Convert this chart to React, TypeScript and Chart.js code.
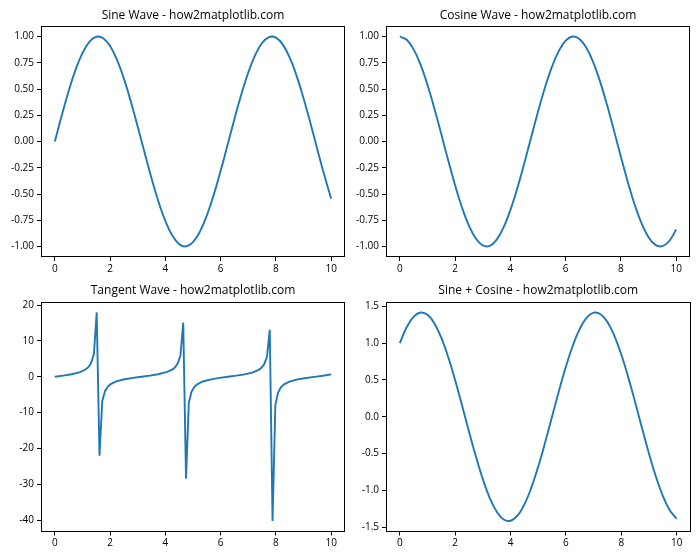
import React, { useEffect, useRef } from "react";
import { Chart, registerables } from "chart.js";

Chart.register(...registerables);

// ---- data ----
const smoothX = [
  0, 0.25, 0.5, 0.75, 1, 1.25, 1.5, 1.75, 2, 2.25, 2.5, 2.75, 3, 3.25, 3.5, 3.75, 4, 4.25, 4.5, 4.75,
  5, 5.25, 5.5, 5.75, 6, 6.25, 6.5, 6.75, 7, 7.25, 7.5, 7.75, 8, 8.25, 8.5, 8.75, 9, 9.25, 9.5, 9.75, 10,
];
const sineValues = [
  0, 0.2474, 0.4794, 0.6816, 0.8415, 0.949, 0.9975, 0.984, 0.9093, 0.7781, 0.5985, 0.3817, 0.1411,
  -0.1082, -0.3508, -0.5716, -0.7568, -0.895, -0.9775, -0.9993, -0.9589, -0.8589, -0.7055, -0.5083,
  -0.2794, -0.0332, 0.2151, 0.45, 0.657, 0.8231, 0.938, 0.9946, 0.9894, 0.9228, 0.7985, 0.6247, 0.4121,
  0.1739, -0.0752, -0.3195, -0.544,
];
const cosineValues = [
  1, 0.9689, 0.8776, 0.7317, 0.5403, 0.3153, 0.0707, -0.1782, -0.4161, -0.6282, -0.8011, -0.9243, -0.99,
  -0.9941, -0.9365, -0.8206, -0.6536, -0.4461, -0.2108, 0.0376, 0.2837, 0.5121, 0.7087, 0.8612, 0.9602,
  0.9994, 0.9766, 0.893, 0.7539, 0.5679, 0.3466, 0.1036, -0.1455, -0.3854, -0.602, -0.7807, -0.9111,
  -0.9848, -0.9972, -0.9476, -0.8391,
];
const sumValues = [
  1, 1.2163, 1.357, 1.4133, 1.3818, 1.2643, 1.0682, 0.8058, 0.4932, 0.1499, -0.2026, -0.5426, -0.8489,
  -1.1023, -1.2873, -1.3922, -1.4104, -1.3411, -1.1883, -0.9617, -0.6752, -0.3468, 0.0032, 0.3529,
  0.6808, 0.9662, 1.1917, 1.343, 1.4109, 1.391, 1.2846, 1.0982, 0.8439, 0.5374, 0.1965, -0.156, -0.499,
  -0.8109, -1.0724, -1.2671, -1.3831,
];
const tanX = [
  0, 0.303, 0.6061, 0.9091, 1.1111, 1.2121, 1.3131, 1.4141, 1.5152, 1.6162, 1.7172, 1.8182, 1.9192,
  2.0202, 2.2222, 2.5253, 2.8283, 3.1313, 3.4343, 3.7374, 4.0404, 4.2424, 4.3434, 4.4444, 4.5455,
  4.6465, 4.7475, 4.8485, 4.9495, 5.0505, 5.1515, 5.3535, 5.6566, 5.9596, 6.2626, 6.5657, 6.8687,
  7.1717, 7.3737, 7.4747, 7.5758, 7.6768, 7.7778, 7.8788, 7.9798, 8.0808, 8.1818, 8.2828, 8.4848,
  8.7879, 9.0909, 9.3939, 9.697, 10,
];
const tanValues = [
  0, 0.3127, 0.693, 1.2837, 2.0185, 2.667, 3.795, 6.331, 17.95, -22.03, -6.783, -3.96, -2.753, -2.073,
  -1.311, -0.7085, -0.3241, -0.0103, 0.3014, 0.6779, 1.2571, 1.9688, 2.585, 3.643, 5.934, 15.14, -28.49,
  -7.302, -4.139, -2.843, -2.129, -1.339, -0.724, -0.3354, -0.0206, 0.2902, 0.6631, 1.2305, 1.9205,
  2.508, 3.501, 5.584, 13.1, -40.3, -7.906, -4.333, -2.941, -2.187, -1.37, -0.7403, -0.3469, -0.0309,
  0.2791, 0.6484,
];

const xTicks = [0, 2, 4, 6, 8, 10];
const waveTicks = [-1, -0.75, -0.5, -0.25, 0, 0.25, 0.5, 0.75, 1];
const tanTicks = [-40, -30, -20, -10, 0, 10, 20];
const sumTicks = [-1.5, -1, -0.5, 0, 0.5, 1, 1.5];

const titles = [
  "Sine Wave - how2matplotlib.com",
  "Cosine Wave - how2matplotlib.com",
  "Tangent Wave - how2matplotlib.com",
  "Sine + Cosine - how2matplotlib.com",
];

const FONT = "'Open Sans', 'Noto Sans', sans-serif";
const LINE = "#1f77b4";

const framePlugin = {
  id: "frame",
  afterDatasetsDraw(chart: any) {
    const { ctx, chartArea } = chart;
    const l = Math.round(chartArea.left) + 0.5;
    const t = Math.round(chartArea.top) + 0.5;
    const r = Math.round(chartArea.right) - 0.5;
    const b = Math.round(chartArea.bottom) - 0.5;
    ctx.save();
    ctx.strokeStyle = "#000";
    ctx.lineWidth = 1;
    ctx.strokeRect(l, t, r - l, b - t);
    ctx.restore();
  },
};

type Panel = {
  left: number;
  top: number;
  width: number;
  height: number;
  yWidth: number;
  xHeight: number;
  padRight: number;
  titlePad: { top: number; bottom: number };
  title: string;
  points: { x: number; y: number }[];
  smooth: boolean;
  yMin: number;
  yMax: number;
  yTicks: number[];
  decimals: number;
};

const zip = (xs: number[], ys: number[]) => xs.map((x, i) => ({ x, y: ys[i] }));

const panels: Panel[] = [
  {
    left: 0, top: 0, width: 350, height: 280, yWidth: 41, xHeight: 23, padRight: 5,
    titlePad: { top: 8, bottom: 3.6 }, title: titles[0], points: zip(smoothX, sineValues), smooth: true,
    yMin: -1.1, yMax: 1.1, yTicks: waveTicks, decimals: 2,
  },
  {
    left: 350, top: 0, width: 350, height: 280, yWidth: 36, xHeight: 23, padRight: 10,
    titlePad: { top: 8, bottom: 3.6 }, title: titles[1], points: zip(smoothX, cosineValues), smooth: true,
    yMin: -1.1, yMax: 1.1, yTicks: waveTicks, decimals: 2,
  },
  {
    left: 0, top: 280, width: 350, height: 280, yWidth: 41, xHeight: 28.5, padRight: 5,
    titlePad: { top: 3.3, bottom: 4.3 }, title: titles[2], points: zip(tanX, tanValues), smooth: false,
    yMin: -43.21, yMax: 20.86, yTicks: tanTicks, decimals: 0,
  },
  {
    left: 350, top: 280, width: 350, height: 280, yWidth: 36, xHeight: 28.5, padRight: 9.5,
    titlePad: { top: 3.3, bottom: 4.3 }, title: titles[3], points: zip(smoothX, sumValues), smooth: true,
    yMin: -1.556, yMax: 1.556, yTicks: sumTicks, decimals: 1,
  },
];

function PanelChart({ p }: { p: Panel }) {
  const ref = useRef<HTMLCanvasElement | null>(null);
  useEffect(() => {
    if (!ref.current) return;
    const chart = new Chart(ref.current, {
      type: "line",
      data: {
        datasets: [
          {
            data: p.points,
            borderColor: LINE,
            borderWidth: 1.9,
            pointRadius: 0,
            fill: false,
            tension: p.smooth ? 0.4 : 0,
          } as any,
        ],
      },
      options: {
        animation: false,
        responsive: false,
        devicePixelRatio: 1,
        layout: { padding: { left: 0, right: p.padRight, top: 0, bottom: 0 } },
        plugins: {
          legend: { display: false },
          tooltip: { enabled: false },
          title: {
            display: true,
            fullSize: false,
            text: p.title,
            color: "#000",
            font: { family: FONT, size: 12, weight: "normal" as any },
            padding: p.titlePad,
          },
        },
        scales: {
          x: {
            type: "linear",
            min: -0.5,
            max: 10.5,
            afterBuildTicks: (s: any) => {
              s.ticks = xTicks.map((v) => ({ value: v }));
            },
            afterFit: (s: any) => {
              s.height = p.xHeight;
            },
            ticks: {
              color: "#000",
              font: { family: FONT, size: 10 },
              padding: 2,
              maxRotation: 0,
              callback: (v: any) => String(v),
            },
            grid: { display: true, drawOnChartArea: false, drawTicks: true, tickLength: 4, color: "#000" },
            border: { display: false },
          },
          y: {
            type: "linear",
            min: p.yMin,
            max: p.yMax,
            afterBuildTicks: (s: any) => {
              s.ticks = p.yTicks.map((v) => ({ value: v }));
            },
            afterFit: (s: any) => {
              s.width = p.yWidth;
            },
            ticks: {
              color: "#000",
              font: { family: FONT, size: 10 },
              padding: 3,
              callback: (v: any) => Number(v).toFixed(p.decimals),
            },
            grid: { display: true, drawOnChartArea: false, drawTicks: true, tickLength: 4, color: "#000" },
            border: { display: false },
          },
        },
      },
      plugins: [framePlugin],
    } as any);
    return () => chart.destroy();
  }, [p]);
  return (
    <canvas
      ref={ref}
      width={p.width}
      height={p.height}
      style={{ position: "absolute", left: p.left, top: p.top, width: p.width, height: p.height, display: "block" }}
    />
  );
}

export default function App() {
  return (
    <div style={{ position: "absolute", left: 0, top: 0, width: 700, height: 560, background: "#fff" }}>
      {panels.map((p, i) => (
        <PanelChart key={i} p={p} />
      ))}
    </div>
  );
}
